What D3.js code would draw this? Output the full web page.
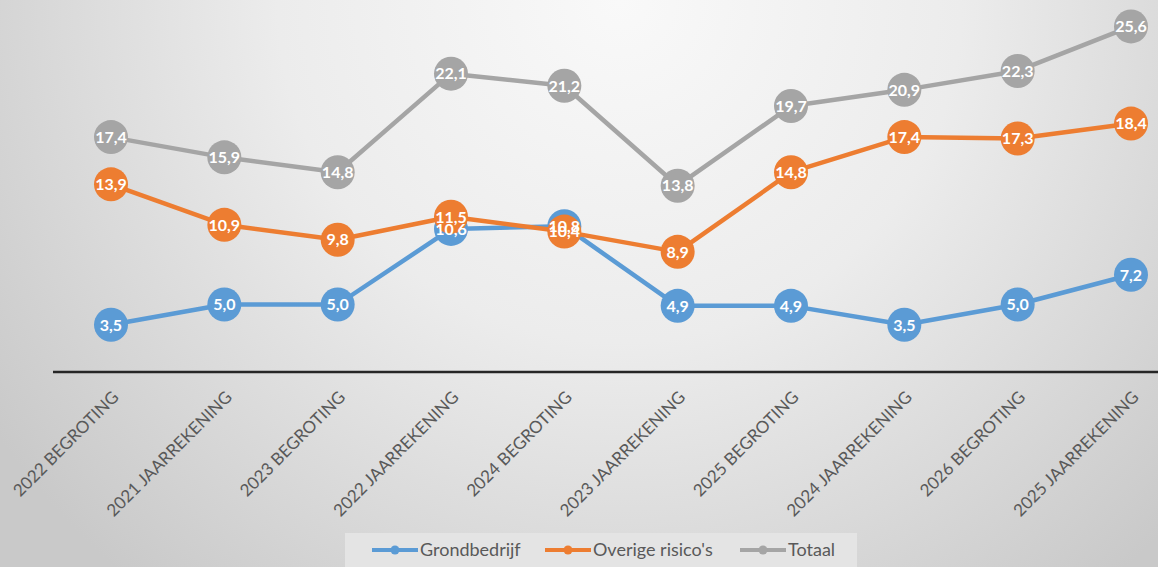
<!DOCTYPE html>
<html>
<head>
<meta charset="utf-8">
<script src="https://cdn.jsdelivr.net/npm/d3@7"></script>
<style>
  html, body { margin: 0; padding: 0; overflow: hidden; }
  body { width: 1158px; height: 567px; }
</style>
</head>
<body>
<script>
/* data */
var categories = ["2022 BEGROTING", "2021 JAARREKENING", "2023 BEGROTING", "2022 JAARREKENING",
  "2024 BEGROTING", "2023 JAARREKENING", "2025 BEGROTING", "2024 JAARREKENING",
  "2026 BEGROTING", "2025 JAARREKENING"];
var grondbedrijf = [3.5, 5.0, 5.0, 10.6, 10.8, 4.9, 4.9, 3.5, 5.0, 7.2];
var overige = [13.9, 10.9, 9.8, 11.5, 10.4, 8.9, 14.8, 17.4, 17.3, 18.4];
var totaal = [17.4, 15.9, 14.8, 22.1, 21.2, 13.8, 19.7, 20.9, 22.3, 25.6];
var seriesNames = ["Grondbedrijf", "Overige risico's", "Totaal"];
var seriesColors = ["#5b9bd5", "#ed7d31", "#a5a5a5"];

var W = 1158, H = 567;
var font = "Lato, 'Open Sans', sans-serif";

var svg = d3.select("body").append("svg")
  .attr("width", W).attr("height", H);

/* background gradient */
var defs = svg.append("defs");
var grad = defs.append("radialGradient").attr("id", "bg")
  .attr("gradientUnits", "userSpaceOnUse")
  .attr("cx", 620).attr("cy", 0).attr("r", 760);
grad.append("stop").attr("offset", "0%").attr("stop-color", "#f9f9f9");
grad.append("stop").attr("offset", "45%").attr("stop-color", "#ececec");
grad.append("stop").attr("offset", "100%").attr("stop-color", "#c9c9c9");
svg.append("rect").attr("width", W).attr("height", H).attr("fill", "url(#bg)");

/* scales */
var x = d3.scalePoint().domain(categories).range([111, 1131]);
var y = d3.scaleLinear().domain([0, 25.6]).range([372, 26.4]);

/* axis */
var xAxis = d3.axisBottom(x).tickSize(0).tickPadding(0);
var xg = svg.append("g").attr("transform", "translate(0," + y(0) + ")").call(xAxis);
xg.select(".domain").remove();
svg.append("line")
  .attr("x1", 53).attr("x2", W)
  .attr("y1", y(0)).attr("y2", y(0))
  .attr("stroke", "#262626").attr("stroke-width", 2.5);
xg.selectAll("text")
  .attr("font-family", font).attr("font-size", 17).attr("fill", "#595959")
  .attr("text-anchor", "end")
  .attr("dy", "0.35em")
  .attr("transform", "translate(4,22) rotate(-45)");

/* series */
var all = [grondbedrijf, overige, totaal];
var line = d3.line().x(function (d, i) { return x(categories[i]); }).y(function (d) { return y(d); });

var fmt = function (v) { return d3.format(".1f")(v).replace(".", ","); };

all.forEach(function (vals, s) {
  var g = svg.append("g");
  g.append("path").datum(vals)
    .attr("d", line)
    .attr("fill", "none")
    .attr("stroke", seriesColors[s])
    .attr("stroke-width", 4.5)
    .attr("stroke-linejoin", "round");
  g.selectAll("circle").data(vals).enter().append("circle")
    .attr("cx", function (d, i) { return x(categories[i]); })
    .attr("cy", function (d) { return y(d); })
    .attr("r", 17)
    .attr("fill", seriesColors[s]);
});

/* labels on top (overlaps at 2022 JAARREKENING / 2024 BEGROTING match the reference) */
all.forEach(function (vals, s) {
  svg.append("g").selectAll("text").data(vals).enter().append("text")
    .attr("x", function (d, i) { return x(categories[i]); })
    .attr("y", function (d) { return y(d); })
    .attr("dy", "0.36em")
    .attr("text-anchor", "middle")
    .attr("font-family", font).attr("font-size", 16).attr("font-weight", "bold")
    .attr("fill", "#ffffff")
    .text(function (d) { return fmt(d); });
});

/* legend */
var lg = svg.append("g");
lg.append("rect").attr("x", 345).attr("y", 533).attr("width", 512).attr("height", 40)
  .attr("fill", "#e4e4e4");
var legX = [372, 545, 740];
seriesNames.forEach(function (name, s) {
  var ly = 550;
  lg.append("line").attr("x1", legX[s]).attr("x2", legX[s] + 46)
    .attr("y1", ly).attr("y2", ly)
    .attr("stroke", seriesColors[s]).attr("stroke-width", 4);
  lg.append("circle").attr("cx", legX[s] + 23).attr("cy", ly).attr("r", 4.5)
    .attr("fill", seriesColors[s]);
  lg.append("text").attr("x", legX[s] + 48).attr("y", ly).attr("dy", "0.35em")
    .attr("font-family", font).attr("font-size", 18).attr("fill", "#595959")
    .text(name);
});
</script>
</body>
</html>
